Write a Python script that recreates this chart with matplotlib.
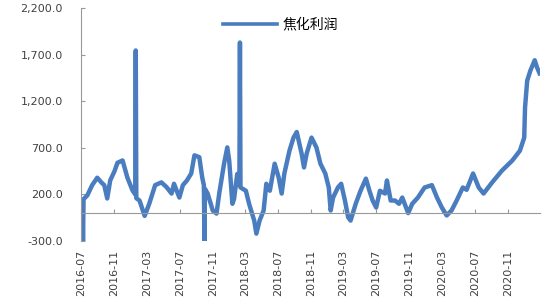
import matplotlib
matplotlib.use('Agg')
import matplotlib.pyplot as plt
import matplotlib.dates as mdates
import numpy as np
import pandas as pd
from matplotlib.ticker import FuncFormatter

plt.rcParams['font.family'] = ['DejaVu Sans', 'Noto Sans CJK SC']

# coke profit
dates = [
    '2016-07-01', '2016-07-05', '2016-07-07', '2016-07-09', '2016-07-23', '2016-08-10',
    '2016-08-29', '2016-09-13', '2016-09-24', '2016-10-05', '2016-10-16', '2016-11-01',
    '2016-11-12', '2016-12-01', '2016-12-19', '2017-01-07', '2017-01-17', '2017-01-19',
    '2017-01-21', '2017-02-02', '2017-02-21', '2017-03-10', '2017-04-01', '2017-04-24',
    '2017-05-13', '2017-06-01', '2017-06-10', '2017-06-30', '2017-07-13', '2017-07-28',
    '2017-08-13', '2017-08-25', '2017-09-12', '2017-09-23', '2017-09-29', '2017-10-01',
    '2017-10-03', '2017-10-13', '2017-11-01', '2017-11-15', '2017-11-25', '2017-12-13',
    '2017-12-25', '2018-01-01', '2018-01-13', '2018-01-19', '2018-01-31', '2018-02-08',
    '2018-02-10', '2018-02-12', '2018-03-04', '2018-03-16', '2018-04-04', '2018-04-12',
    '2018-04-24', '2018-05-09', '2018-05-19', '2018-06-01', '2018-06-19', '2018-07-04',
    '2018-07-15', '2018-07-25', '2018-08-13', '2018-08-28', '2018-09-09', '2018-09-27',
    '2018-10-06', '2018-10-16', '2018-10-27', '2018-11-03', '2018-11-21', '2018-12-06',
    '2018-12-24', '2019-01-06', '2019-01-13', '2019-01-22', '2019-02-09', '2019-02-21',
    '2019-03-07', '2019-03-19', '2019-03-28', '2019-04-16', '2019-05-04', '2019-05-24',
    '2019-06-06', '2019-06-18', '2019-07-01', '2019-07-15', '2019-08-03', '2019-08-10',
    '2019-08-24', '2019-09-09', '2019-09-24', '2019-10-06', '2019-10-28', '2019-11-12',
    '2019-12-03', '2019-12-28', '2020-01-24', '2020-02-12', '2020-03-01', '2020-03-19',
    '2020-04-06', '2020-04-25', '2020-05-18', '2020-06-01', '2020-06-25', '2020-07-16',
    '2020-08-03', '2020-09-04', '2020-10-10', '2020-11-18', '2020-12-16', '2021-01-01',
    '2021-01-04', '2021-01-12', '2021-01-24', '2021-02-09', '2021-02-18', '2021-02-27',
]
profit = [
    130, 120, -310, 150, 190, 300,
    380, 330, 300, 157, 350, 450,
    540, 565, 380, 243, 200, 1745,
    160, 135, -30, 100, 300, 330,
    280, 210, 315, 167, 300, 350,
    425, 620, 600, 380, 300, -295,
    260, 210, 28, -5, 210, 530,
    705, 565, 100, 150, 420, 300,
    1830, 275, 240, 100, -80, -220,
    -80, 28, 315, 240, 530, 380,
    210, 425, 670, 810, 870, 640,
    490, 640, 745, 810, 705, 530,
    425, 275, 28, 167, 275, 315,
    135, -45, -80, 100, 240, 370,
    240, 135, 60, 240, 210, 350,
    135, 135, 100, 167, 0, 100,
    167, 275, 300, 167, 60, -25,
    28, 135, 275, 250, 425, 275,
    210, 330, 455, 565, 670, 810,
    1130, 1420, 1530, 1640, 1560, 1500,
]
tick_labels = ['2016-07', '2016-11', '2017-03', '2017-07', '2017-11', '2018-03', '2018-07',
               '2018-11', '2019-03', '2019-07', '2019-11', '2020-03', '2020-07', '2020-11']

x = mdates.date2num(pd.to_datetime(dates))
tick_pos = mdates.date2num(pd.to_datetime(tick_labels, format='%Y-%m'))

fig = plt.figure(figsize=(5.5, 2.98), dpi=100)
ax = fig.add_axes([0.147, 0.191, 0.835, 0.782])
ax.plot(x, profit, color='#4a7dbf', lw=3.2, label='焦化利润', solid_joinstyle='round')

ax.set_ylim(-300, 2200)
ax.set_yticks(np.arange(-300, 2201, 500))
ax.yaxis.set_major_formatter(FuncFormatter(lambda v, p: f'{v:,.1f}'))
ax.set_xlim(mdates.date2num(pd.Timestamp('2016-06-29')), mdates.date2num(pd.Timestamp('2021-03-01')))
ax.set_xticks(tick_pos)

for s in ['top', 'right']:
    ax.spines[s].set_visible(False)
ax.spines['left'].set_color('#999999')
ax.spines['bottom'].set_color('#999999')
ax.spines['bottom'].set_position(('data', 0))
ax.tick_params(axis='x', direction='in', length=3, color='#999999', labelbottom=False)
ax.tick_params(axis='y', direction='in', length=3, color='#999999', labelsize=8,
               labelcolor='#404040', pad=13)

# date labels sit under the plot, not on the zero line
sec = ax.secondary_xaxis('bottom')
sec.set_ticks(tick_pos, labels=tick_labels, rotation=90)
sec.tick_params(length=0, labelsize=8, labelcolor='#404040', pad=6)
sec.spines['bottom'].set_visible(False)

leg = ax.legend(loc='upper left', bbox_to_anchor=(0.405, 0.94), bbox_transform=fig.transFigure,
                frameon=False, borderpad=0, borderaxespad=0, handlelength=3.9,
                handletextpad=0.4, fontsize=10)
leg.get_lines()[0].set_linewidth(2.6)

fig.savefig('out.png', dpi=100)
